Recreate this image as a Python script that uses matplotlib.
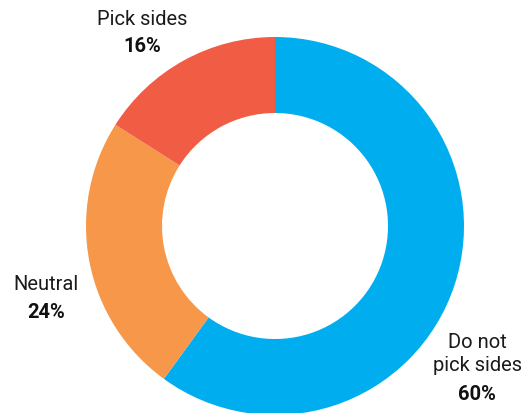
import matplotlib
matplotlib.use("Agg")
import matplotlib.pyplot as plt

# share of respondents by stance
labels = ["Do not\npick sides", "Neutral", "Pick sides"]
values = [60, 24, 16]
colors = ["#00AEEF", "#F7974A", "#F05C44"]

# label anchor points (pixel space, y measured from the top)
label_pos = [(477, 354), (46, 285), (142, 19)]

plt.rcParams["font.family"] = ["Roboto", "DejaVu Sans"]

W, H = 526, 414
fig = plt.figure(figsize=(W / 100, H / 100), dpi=100)
ax = fig.add_axes([0, 0, 1, 1])
ax.set_xlim(0, W)
ax.set_ylim(0, H)
ax.set_aspect("equal")
ax.axis("off")

outer_r = 189
inner_r = 113
ax.pie(values, colors=colors, startangle=90, counterclock=False,
       radius=outer_r, center=(275, H - 227),
       wedgeprops=dict(width=outer_r - inner_r, linewidth=0))
ax.set_xlim(0, W)
ax.set_ylim(0, H)

for lab, val, (x, y) in zip(labels, values, label_pos):
    n = lab.count("\n")
    ax.text(x, H - y, lab, ha="center", va="center", fontsize=14.5,
            color="#1a1a1a", linespacing=1.25)
    ax.text(x, H - y - 14 * (n + 1) - 13, f"{val}%", ha="center", va="center",
            fontsize=14.5, fontweight="bold", color="#111111")

fig.savefig("out.png", dpi=100)
